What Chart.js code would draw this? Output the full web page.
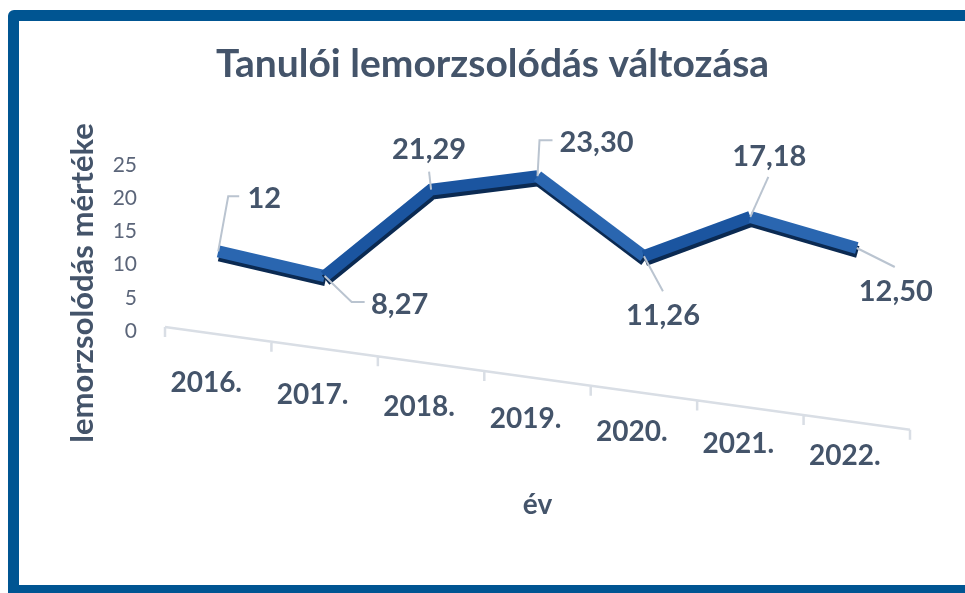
<!DOCTYPE html>
<html>
<head>
<meta charset="utf-8">
<title>Tanulói lemorzsolódás változása</title>
<script src="https://cdn.jsdelivr.net/npm/chart.js@4"></script>
<style>
  html, body { margin: 0; padding: 0; background: #fff; }
  body { width: 965px; height: 593px; overflow: hidden; position: relative; }
  #frame {
    position: absolute; left: 8px; top: 10px; width: 1000px; height: 586px;
    border: 11px solid #005592; border-radius: 6px 0 0 0; box-sizing: border-box;
  }
  #chart { position: absolute; left: 0; top: 0; }
</style>
</head>
<body>
<div id="frame"></div>
<canvas id="chart" width="965" height="593"></canvas>
<script>
'use strict';
const years = ['2016.', '2017.', '2018.', '2019.', '2020.', '2021.', '2022.'];
const dropout = [12, 8.27, 21.29, 23.3, 11.26, 17.18, 12.5];
const yTicks = [0, 5, 10, 15, 20, 25];

const textColor = '#44546a';
// per label: text offset dx,dy from the point, leader end ex,ey, horizontal tail length
const labelPos = [
  [46, -53, 10, -55, 11],
  [75, 29, 27, 26, 13],
  [-2, -40, -2, -18, 0],
  [59, -34, 2, -36, 13],
  [19, 59, 19, 35, 0],
  [19, -60, 18, -40, 0],
  [39, 44, 38, 19, 0]
];

function fmt(v) {
  return Number.isInteger(v) ? String(v) : v.toFixed(2).replace('.', ',');
}

Chart.defaults.font.family = 'Lato';

// darker band under the ribbon, fakes the 3d side face
const ribbonShade = {
  id: 'ribbonShade',
  beforeDatasetDraw(chart) {
    const c = chart.ctx;
    c.save();
    c.shadowColor = '#0b2a52';
    c.shadowOffsetX = 1;
    c.shadowOffsetY = 4;
    c.shadowBlur = 0;
  },
  afterDatasetDraw(chart) {
    chart.ctx.restore();
  }
};

// tilted category axis with stepped labels, plus the y title
const tiltAxis = {
  id: 'tiltAxis',
  afterDatasetsDraw(chart) {
    const {ctx, chartArea: a, scales: {x}} = chart;
    const slope = 0.138;
    const y0 = a.bottom - 4;
    const step = (a.right - a.left) / years.length;
    ctx.save();
    ctx.strokeStyle = '#d9dee5';
    ctx.lineWidth = 2.5;
    ctx.beginPath();
    ctx.moveTo(a.left, y0);
    ctx.lineTo(a.right, y0 + slope * (a.right - a.left));
    for (let i = 0; i <= years.length; i++) {
      const tx = a.left + i * step;
      const ty = y0 + slope * (tx - a.left);
      ctx.moveTo(tx, ty);
      ctx.lineTo(tx, ty + 10);
    }
    ctx.stroke();

    ctx.fillStyle = textColor;
    ctx.textAlign = 'center';
    ctx.textBaseline = 'middle';
    ctx.font = 'bold 28px Lato';
    years.forEach((lab, i) => {
      const lx = x.getPixelForValue(i) - 12;
      ctx.fillText(lab, lx, a.bottom + 47 + 0.115 * (lx - a.left));
    });

    ctx.translate(83, (a.top + a.bottom) / 2 + 35);
    ctx.rotate(-Math.PI / 2);
    ctx.font = 'bold 31px Lato';
    ctx.fillText('lemorzsolódás mértéke', 0, 0);
    ctx.restore();
  }
};

const valueLabels = {
  id: 'valueLabels',
  afterDatasetsDraw(chart) {
    const ctx = chart.ctx;
    const pts = chart.getDatasetMeta(0).data;
    ctx.save();
    ctx.strokeStyle = '#bac4d0';
    ctx.lineWidth = 2;
    ctx.font = 'bold 29px Lato';
    ctx.fillStyle = textColor;
    ctx.textAlign = 'center';
    ctx.textBaseline = 'middle';
    pts.forEach((p, i) => {
      const [dx, dy, ex, ey, tail] = labelPos[i];
      ctx.beginPath();
      ctx.moveTo(p.x, p.y);
      ctx.lineTo(p.x + ex, p.y + ey);
      if (tail) ctx.lineTo(p.x + ex + tail, p.y + ey);
      ctx.stroke();
      ctx.fillText(fmt(dropout[i]), p.x + dx, p.y + dy);
    });
    ctx.restore();
  }
};

new Chart(document.getElementById('chart'), {
  type: 'line',
  data: {
    labels: years,
    datasets: [{
      data: dropout,
      borderColor: '#2462ad',
      borderWidth: 12,
      pointRadius: 0,
      tension: 0,
      borderJoinStyle: 'miter',
      borderCapStyle: 'butt',
      segment: {
        borderColor: c => c.p1.parsed.y > c.p0.parsed.y ? '#1b55a0' : '#2a66b0'
      }
    }]
  },
  options: {
    responsive: false,
    animation: false,
    devicePixelRatio: 1,
    layout: { padding: { left: 20, right: 0, top: 0, bottom: 0 } },
    plugins: {
      legend: { display: false },
      tooltip: { enabled: false },
      title: {
        display: true,
        text: 'Tanulói lemorzsolódás változása',
        color: textColor,
        font: { size: 39, weight: 'bold' },
        padding: { top: 40.6, bottom: 77.6 }
      }
    },
    scales: {
      x: {
        offset: true,
        grid: { display: false },
        border: { display: false },
        ticks: { display: false },
        title: {
          display: true,
          text: 'év',
          color: textColor,
          font: { size: 28, weight: 'bold' },
          padding: { top: 0, bottom: 71 }
        },
        afterFit: s => { s.height = 262; }
      },
      y: {
        min: yTicks[0],
        max: yTicks[yTicks.length - 1],
        afterBuildTicks: s => { s.ticks = yTicks.map(v => ({ value: v })); },
        grid: { display: false, drawTicks: false },
        border: { display: false },
        ticks: { padding: 28, color: '#5b6579', font: { size: 21 } },
        afterFit: s => { s.width = 145; }
      },
      pad: {
        type: 'linear',
        position: 'right',
        grid: { display: false, drawTicks: false },
        border: { display: false },
        ticks: { display: false },
        afterFit: s => { s.width = 55; }
      }
    }
  },
  plugins: [ribbonShade, tiltAxis, valueLabels]
});
</script>
</body>
</html>
